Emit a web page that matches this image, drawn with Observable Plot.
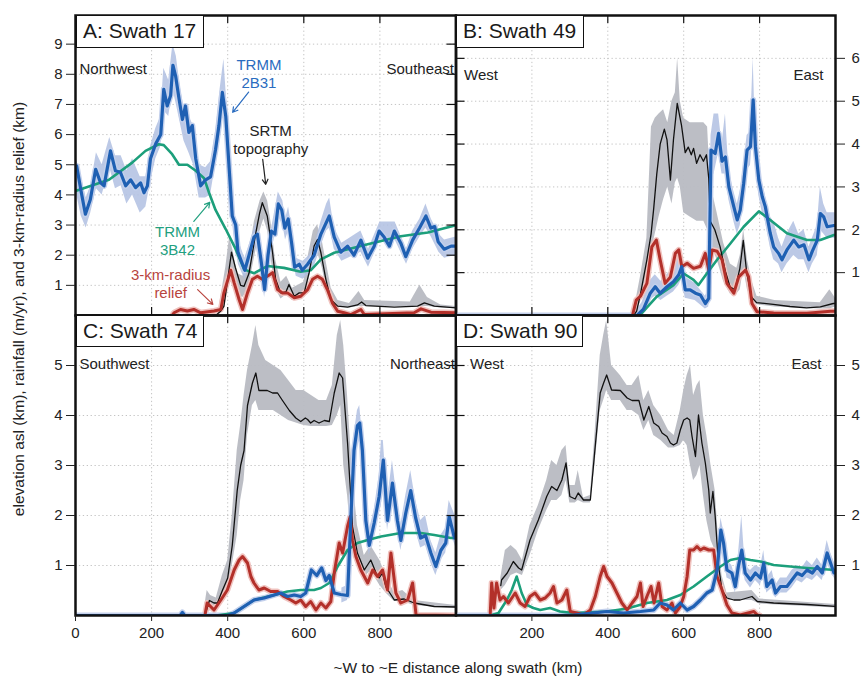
<!DOCTYPE html>
<html><head><meta charset="utf-8">
<script src="https://cdn.jsdelivr.net/npm/d3@7"></script>
<script src="https://cdn.jsdelivr.net/npm/@observablehq/plot@0.6"></script>
<style>
body{margin:0;background:#fff;}
#wrap{position:relative;width:864px;height:677px;font-family:"Liberation Sans",Arial,Helvetica,sans-serif;color:#222;}
#wrap svg{position:absolute;left:0;top:0;}
.ttl{position:absolute;box-sizing:border-box;border:1.5px solid #111;background:#fff;font-size:21px;line-height:30px;padding-left:6px;white-space:nowrap;color:#1a1a1a;}
.lab{position:absolute;white-space:nowrap;font-size:15.5px;color:#222;}
</style></head><body><div id="wrap"></div>
<script>
// ---------- shared ticks ----------
const xGrid = [200, 400, 600, 800];
const xLabelsC = [0, 200, 400, 600, 800];
const xLabelsD = [200, 400, 600, 800];
const yTicksA = [1,2,3,4,5,6,7,8,9];
const yTicksB = [1,2,3,4,5,6];
const yTicksCD = [1,2,3,4,5];

// ---------- Panel A: Swath 17 ----------
const blueA = [[0,4.9],[3,4.96],[15,4.1],[26,3.36],[39,3.85],[53,4.85],[66,4.4],[75,4.3],[92,5.46],[105,4.8],[118,4.75],[132,4.3],[145,4.5],[158,4.24],[171,4.4],[180,4.07],[189,4.3],[197,5.2],[211,5.7],[224,6.0],[232,7.5],[241,6.95],[250,7.3],[256,8.3],[263,7.95],[272,7.2],[281,6.5],[289,6.95],[298,6.07],[307,6.3],[316,5.2],[329,4.3],[342,4.5],[355,4.6],[368,5.5],[377,6.3],[386,7.4],[395,6.6],[404,4.85],[412,3.3],[421,3.0],[427,2.1],[436,1.8],[445,1.5],[456,2.0],[469,2.6],[478,2.7],[489,1.7],[497,0.86],[506,2.0],[515,2.8],[524,2.7],[533,3.7],[542,3.5],[550,2.9],[559,3.2],[568,2.4],[576,1.6],[588,1.7],[596,1.5],[610,1.7],[627,2.0],[645,2.7],[667,3.3],[680,2.6],[697,2.1],[715,2.3],[732,2.0],[750,2.5],[768,1.9],[785,2.3],[798,2.8],[811,2.6],[825,2.3],[838,2.8],[855,2.4],[868,1.95],[886,2.5],[904,2.9],[921,3.3],[934,2.9],[944,2.95],[953,2.45],[969,2.2],[987,2.3],[1000,2.3]];
const greenA = [[0,4.13],[88,4.5],[149,5.07],[184,5.46],[219,5.68],[232,5.65],[254,5.35],[272,5.0],[294,5.0],[316,4.8],[338,4.55],[351,4.07],[368,3.5],[395,2.86],[421,2.2],[443,1.53],[469,1.4],[504,1.64],[548,1.58],[592,1.45],[618,1.5],[645,1.86],[680,2.08],[768,2.36],[855,2.63],[926,2.75],[987,2.95],[1000,3.0]];
const topoA = [[0,0.02],[370,0.02],[382,0.15],[390,0.3],[400,1.2],[410,2.1],[420,1.6],[434,1.0],[443,0.97],[456,1.4],[474,2.75],[484,3.4],[491,3.74],[504,3.3],[518,2.08],[526,1.2],[539,0.75],[553,0.78],[561,1.03],[575,0.64],[588,0.75],[601,0.75],[614,1.42],[627,2.3],[636,2.52],[645,2.08],[658,1.2],[671,0.53],[689,0.31],[715,0.28],[741,0.35],[752,0.45],[763,0.33],[838,0.28],[899,0.31],[917,0.42],[943,0.31],[1000,0.25]];
const reliefA = [[255,0.02],[259,0.09],[276,0.2],[294,0.15],[311,0.2],[329,0.09],[364,0.15],[382,0.2],[390,0.75],[408,1.5],[417,1.08],[430,0.53],[439,0.2],[452,0.75],[465,1.2],[478,1.3],[491,1.2],[504,1.3],[518,1.42],[531,0.86],[544,0.75],[557,0.75],[575,0.59],[592,0.64],[610,0.86],[623,1.2],[636,1.3],[649,1.2],[662,0.86],[675,0.42],[689,0.14],[706,0.09],[724,0.03],[750,0.2],[759,0.03],[890,0.09],[908,0.22],[934,0.11],[1000,0.09]];
const topoBandA = [[378,0,0.3],[395,0.5,1.6],[405,1.3,2.6],[415,1.2,2.1],[425,0.7,1.4],[440,0.6,1.3],[455,0.9,1.9],[470,1.9,3.1],[485,2.8,3.8],[495,3.2,4.1],[505,2.8,3.8],[515,1.8,3.0],[525,0.9,1.9],[540,0.55,1.1],[555,0.7,1.3],[570,0.5,0.9],[585,0.5,1.0],[600,0.6,1.1],[612,1.1,2.0],[625,1.8,2.8],[636,2.1,3.0],[648,1.6,2.5],[660,0.9,1.7],[672,0.45,0.9],[690,0.28,0.5],[720,0.25,0.4],[745,0.3,0.8],[760,0.3,0.5],[880,0.28,0.45],[905,0.3,1.0],[925,0.3,0.6],[960,0.25,0.35],[1000,0.22,0.3]];
const blueBandA = [[0,4.2,5.3],[15,3.3,4.6],[28,2.9,3.9],[40,3.4,4.3],[55,4.2,5.4],[70,4.0,5.0],[90,4.9,5.9],[105,4.2,5.3],[120,4.3,5.3],[135,3.7,4.8],[150,4.0,5.2],[170,3.4,4.6],[185,3.6,4.6],[197,4.4,5.6],[211,5.2,6.2],[224,5.6,6.6],[232,6.8,8.2],[245,6.6,7.8],[256,7.5,9.0],[265,7.0,8.6],[275,6.4,7.6],[285,5.8,6.9],[298,5.4,6.6],[310,5.0,6.3],[325,3.9,5.0],[342,3.9,4.9],[355,4.0,5.1],[368,5.0,6.1],[380,6.3,7.5],[390,6.8,8.5],[398,6.0,7.0],[405,4.2,5.4],[415,2.8,3.8],[428,1.7,2.5],[445,1.2,1.9],[458,1.7,2.4],[475,2.3,3.1],[488,1.4,2.1],[497,0.6,1.2],[508,1.7,2.4],[520,2.4,3.2],[533,3.3,4.1],[545,3.0,3.8],[552,2.5,3.2],[560,2.8,3.6],[570,2.0,2.8],[580,1.3,1.9],[598,1.2,1.8],[615,1.4,2.0],[630,1.7,2.4],[645,2.3,3.1],[660,2.8,3.7],[668,2.9,3.9],[680,2.2,2.9],[700,1.8,2.4],[750,2.1,2.8],[770,1.6,2.2],[800,2.5,3.1],[840,2.5,3.1],[870,1.7,2.2],[886,2.2,2.8],[905,2.6,3.2],[921,2.9,3.7],[935,2.6,3.2],[955,2.1,2.7],[970,1.9,2.5],[1000,2.0,2.6]];
const notesA = [
  {x: 482, y: 8.04, text: "TRMM\n2B31"},
  {x: 513, y: 5.85, text: "SRTM\ntopography"},
  {x: 268, y: 2.49, text: "TRMM\n3B42"},
  {x: 250, y: 1.06, text: "3-km-radius\nrelief"}
];
const arrowsA = [
  {x1: 455, y1: 7.41, x2: 413, y2: 6.74},
  {x1: 492, y1: 5.18, x2: 500, y2: 4.35},
  {x1: 311, y1: 3.12, x2: 353, y2: 3.75},
  {x1: 321, y1: 0.86, x2: 361, y2: 0.37}
];

// ---------- Panel B: Swath 49 ----------
const blueB = [[0,0],[477,0],[494,0.15],[512,0.52],[525,0.67],[538,0.52],[556,0.67],[573,0.79],[587,0.95],[595,1.14],[604,0.6],[617,0.6],[631,0.52],[644,0.48],[657,0.28],[666,0.4],[672,3.86],[683,3.78],[692,4.25],[701,3.6],[710,3.7],[719,3.0],[732,2.54],[741,2.23],[749,2.46],[758,3.08],[767,3.86],[776,3.94],[783,5.03],[789,3.94],[798,3.16],[807,2.77],[815,2.54],[828,1.92],[837,1.6],[850,1.45],[859,1.3],[872,1.53],[890,1.76],[903,1.6],[917,1.65],[930,1.3],[939,1.5],[952,1.76],[960,2.38],[969,2.3],[978,2.07],[996,2.1],[1000,2.1]];
const greenB = [[0,0],[480,0],[486,0.02],[529,0.44],[573,0.71],[600,0.98],[626,0.83],[639,0.71],[661,0.98],[688,1.3],[723,1.68],[758,2.07],[798,2.43],[828,2.23],[872,1.92],[925,1.76],[960,1.76],[996,1.88],[1000,1.88]];
const topoB = [[0,0],[468,0],[476,0.1],[486,0.5],[503,1.3],[514,1.9],[521,2.5],[529,3.3],[538,4.0],[549,4.35],[556,4.1],[565,3.16],[573,4.1],[583,4.95],[594,4.45],[604,3.8],[612,3.93],[620,3.75],[626,3.9],[634,3.55],[643,3.75],[652,3.6],[660,3.75],[666,3.2],[670,2.2],[682,2.0],[696,1.6],[709,1.06],[722,0.67],[735,0.6],[748,1.1],[757,1.75],[766,1.0],[779,0.43],[792,0.3],[836,0.26],[880,0.21],[924,0.18],[960,0.2],[994,0.28],[1000,0.28]];
const reliefB = [[465,0],[475,0.36],[486,0.45],[503,0.75],[516,1.6],[528,1.76],[538,1.3],[551,0.75],[565,0.9],[578,1.45],[587,1.53],[595,1.14],[609,1.22],[626,1.1],[644,1.15],[657,1.45],[666,1.06],[675,1.53],[688,1.5],[701,1.3],[714,0.75],[732,0.52],[745,0.9],[763,1.06],[771,0.9],[780,0.28],[793,0.09],[837,0.06],[925,0.05],[987,0.1],[1000,0.1]];
const topoBandB = [[470,0,0.15],[486,0.3,0.9],[503,1.0,1.8],[515,1.5,4.4],[525,1.9,4.6],[535,2.3,4.7],[547,2.7,4.8],[558,3.0,4.5],[569,2.6,5.0],[578,3.1,5.2],[584,3.2,6.0],[591,3.0,5.0],[600,2.4,4.6],[617,2.3,4.5],[635,2.2,4.5],[653,2.2,4.5],[663,2.0,4.4],[668,1.8,3.5],[675,1.6,2.9],[688,1.3,2.4],[705,0.8,1.7],[723,0.5,1.2],[740,0.5,1.1],[749,0.6,1.4],[758,1.1,2.0],[768,0.6,1.3],[780,0.35,0.8],[793,0.25,0.45],[840,0.2,0.35],[960,0.15,0.3],[985,0.15,0.6],[1000,0.2,0.4]];
const blueBandB = [[470,0,0.05],[490,0.05,0.3],[510,0.35,0.8],[525,0.45,0.95],[540,0.35,0.8],[556,0.45,0.95],[573,0.55,1.1],[587,0.7,1.4],[595,0.85,1.5],[604,0.4,0.9],[630,0.35,0.75],[657,0.15,0.45],[666,0.2,0.6],[672,3.2,4.2],[680,3.3,4.7],[692,3.8,4.7],[701,3.3,4.0],[710,3.3,4.7],[719,2.7,3.4],[732,2.2,2.9],[741,1.9,2.6],[749,2.1,2.9],[758,2.7,3.5],[767,3.4,4.2],[776,3.5,4.3],[783,4.3,6.0],[789,3.5,4.3],[798,2.8,3.5],[807,2.4,3.1],[815,2.2,2.8],[828,1.6,2.3],[837,1.3,2.2],[850,1.2,1.8],[859,1.0,1.6],[872,1.2,1.9],[890,1.4,2.2],[903,1.3,1.9],[917,1.3,2.0],[930,1.0,1.6],[939,1.2,1.8],[952,1.4,2.1],[960,2.0,3.0],[969,1.9,2.6],[978,1.8,2.4],[1000,1.8,2.4]];

// ---------- Panel C: Swath 74 ----------
const blueC = [[0,0],[275,0],[281,0.06],[287,0],[400,0],[417,0.05],[443,0.18],[469,0.31],[496,0.35],[522,0.41],[539,0.45],[557,0.38],[575,0.41],[592,0.38],[605,0.45],[620,0.91],[634,0.8],[647,0.95],[658,0.7],[667,0.8],[680,0.45],[697,0.42],[715,0.4],[724,2.0],[732,3.3],[741,3.8],[747,3.85],[754,3.3],[763,1.9],[772,1.4],[785,1.85],[798,2.38],[809,3.11],[820,1.9],[833,2.65],[846,1.9],[855,1.5],[868,2.05],[881,2.5],[894,1.95],[907,1.55],[920,1.6],[934,1.25],[947,0.98],[960,1.3],[973,1.45],[982,1.98],[996,1.55],[1000,1.55]];
const greenC = [[0,0],[370,0],[417,0.05],[469,0.31],[522,0.41],[557,0.48],[592,0.51],[627,0.51],[645,0.55],[667,0.65],[689,0.98],[715,1.31],[741,1.45],[768,1.51],[803,1.58],[855,1.65],[908,1.65],[943,1.61],[987,1.55],[1000,1.55]];
const topoC = [[0,0],[340,0],[346,0.15],[352,0.3],[364,0.25],[373,0.25],[386,0.5],[400,0.75],[412,1.4],[425,2.5],[434,3.0],[443,3.3],[452,4.2],[465,4.65],[474,4.85],[482,4.5],[504,4.5],[518,4.45],[531,4.45],[544,4.3],[562,4.1],[579,3.95],[592,3.88],[604,3.95],[610,3.92],[618,3.85],[627,3.9],[640,3.85],[654,3.9],[667,3.88],[680,4.45],[693,4.85],[702,4.75],[715,3.45],[728,1.78],[741,1.25],[759,0.91],[776,1.11],[790,0.85],[798,0.75],[807,0.85],[816,0.57],[838,0.31],[864,0.33],[890,0.25],[943,0.18],[1000,0.17]];
const reliefC = [[340,0],[346,0.25],[364,0.11],[382,0.31],[399,0.51],[417,0.91],[430,1.11],[439,1.18],[452,1.05],[461,0.78],[469,0.65],[482,0.51],[496,0.55],[513,0.48],[531,0.48],[548,0.38],[566,0.31],[579,0.25],[592,0.31],[605,0.18],[618,0.28],[632,0.11],[645,0.25],[658,0.15],[671,0.28],[680,0.85],[693,1.45],[702,1.25],[715,1.78],[722,1.98],[728,1.5],[737,1.18],[750,0.91],[768,0.65],[781,0.91],[794,0.78],[807,0.91],[820,0.51],[829,1.25],[842,0.45],[855,0.25],[873,0.31],[886,0.65],[895,0.01],[1000,0]];
const topoBandC = [[340,0,0.2],[346,0.05,0.5],[355,0.1,0.4],[370,0.15,0.35],[386,0.35,0.8],[400,0.55,1.1],[412,1.0,2.0],[425,1.6,3.3],[434,2.3,3.8],[443,2.7,4.4],[452,3.6,4.9],[465,4.2,5.4],[474,4.3,5.8],[482,4.1,5.4],[500,4.1,5.1],[520,4.1,5.0],[540,4.0,4.9],[560,3.9,4.7],[580,3.85,4.5],[600,3.8,4.5],[620,3.78,4.4],[640,3.78,4.3],[660,3.78,4.3],[675,3.8,4.6],[688,4.0,5.6],[697,4.2,5.9],[705,3.0,5.4],[715,2.4,4.4],[728,1.3,2.8],[741,1.0,1.8],[759,0.75,1.2],[776,0.9,1.4],[800,0.6,1.1],[816,0.45,0.8],[838,0.28,0.45],[860,0.28,0.5],[890,0.2,0.3],[1000,0.14,0.2]];
const blueBandC = [[700,0.25,0.55],[715,0.3,0.6],[724,1.6,2.4],[732,3.0,3.6],[741,3.5,4.1],[747,3.6,4.2],[754,3.0,3.6],[763,1.7,2.3],[772,1.2,1.7],[785,1.6,2.1],[798,2.1,2.8],[804,2.2,3.5],[809,2.8,3.5],[820,1.7,2.3],[833,2.4,3.1],[846,1.7,2.3],[855,1.3,1.8],[868,1.8,2.4],[881,2.2,2.9],[894,1.7,2.3],[907,1.35,1.9],[920,1.4,2.0],[934,1.05,1.5],[947,0.8,1.25],[960,1.1,1.6],[973,1.25,1.75],[982,1.75,2.3],[1000,1.35,1.95]];

// ---------- Panel D: Swath 90 ----------
const blueD = [[0,0],[274,0],[310,0.01],[398,0.08],[442,0.05],[486,0.08],[521,0.11],[538,0.25],[556,0.21],[573,0.11],[591,0.25],[609,0.11],[626,0.18],[644,0.31],[661,0.45],[675,0.51],[688,0.91],[698,1.71],[705,1.45],[714,0.91],[727,0.85],[736,0.58],[744,0.98],[753,1.31],[762,0.85],[776,0.71],[789,0.85],[802,0.75],[811,1.05],[819,0.58],[833,0.71],[842,0.45],[855,0.58],[872,0.58],[885,0.71],[899,0.85],[912,0.8],[925,0.91],[939,0.85],[952,0.98],[965,0.85],[978,1.25],[987,1.05],[996,0.85],[1000,0.85]];
const greenD = [[0,0],[90,0],[112,0.05],[134,0.31],[147,0.51],[160,0.78],[173,0.45],[187,0.21],[204,0.15],[222,0.11],[248,0.15],[274,0.08],[310,0.05],[398,0.08],[451,0.14],[503,0.25],[556,0.31],[591,0.41],[626,0.58],[661,0.78],[697,0.98],[723,1.11],[749,1.15],[776,1.11],[802,1.08],[837,1.01],[881,0.98],[925,0.95],[1000,0.91]];
const topoD = [[118,0.6],[120,0.71],[135,0.85],[151,1.08],[165,0.95],[173,0.91],[195,1.51],[217,1.91],[239,2.38],[252,2.58],[266,2.5],[279,2.71],[290,3.05],[300,2.38],[314,2.33],[322,2.45],[336,2.31],[354,2.31],[366,3.31],[380,4.45],[389,4.65],[397,4.81],[410,4.51],[433,4.5],[451,4.35],[464,4.3],[482,4.3],[495,3.91],[508,4.18],[521,3.85],[534,3.78],[543,3.65],[556,3.58],[565,3.45],[573,3.41],[582,3.45],[591,3.71],[600,3.91],[609,3.95],[616,3.91],[622,3.58],[631,3.18],[639,4.01],[648,3.45],[657,3.05],[666,2.51],[670,2.05],[677,2.48],[683,1.98],[692,0.98],[701,0.51],[714,0.35],[732,0.31],[749,0.31],[780,0.38],[794,0.28],[837,0.25],[925,0.22],[1000,0.18]];
const reliefD = [[90,0],[94,0.65],[100,0.15],[107,0.65],[116,0.31],[125,0.38],[138,0.25],[156,0.45],[169,0.25],[182,0.18],[195,0.38],[208,0.45],[222,0.31],[235,0.35],[248,0.45],[257,0.58],[266,0.25],[279,0.31],[292,0.51],[301,0.08],[318,0.05],[336,0.01],[354,0.11],[367,0.38],[380,0.78],[389,0.98],[398,0.78],[411,0.65],[424,0.45],[437,0.25],[451,0.11],[464,0.25],[477,0.38],[486,0.65],[493,0.18],[503,0.38],[514,0.58],[522,0.25],[534,0.65],[543,0.18],[556,0.11],[569,0.25],[578,0.05],[591,0.18],[600,0.38],[609,0.78],[616,1.31],[626,1.31],[635,1.38],[644,1.31],[653,1.35],[666,1.31],[679,1.31],[688,0.78],[701,0.51],[714,0.21],[727,0.05],[749,0.01],[785,0.08],[794,0.01],[800,0]];
const topoBandD = [[118,0.5,0.75],[130,0.6,1.3],[145,0.8,1.4],[160,0.85,1.3],[175,0.8,1.1],[195,1.2,1.8],[217,1.7,2.2],[239,2.1,2.7],[252,2.3,3.1],[266,2.3,3.0],[279,2.4,3.3],[290,2.7,3.4],[300,2.25,2.6],[314,2.25,2.6],[322,2.3,2.9],[336,2.25,2.35],[354,2.25,2.4],[366,3.0,3.6],[380,4.1,5.2],[389,4.3,5.6],[397,4.5,5.9],[410,4.3,5.0],[433,4.3,4.8],[451,4.1,4.6],[464,4.1,4.6],[482,4.0,4.8],[495,3.7,4.3],[508,3.9,4.5],[521,3.6,4.2],[540,3.5,4.0],[560,3.35,3.7],[575,3.35,3.6],[591,3.4,4.1],[600,3.5,4.5],[609,3.4,4.8],[618,3.0,5.0],[626,2.7,4.4],[635,2.8,4.6],[643,3.0,4.7],[652,2.4,4.0],[661,1.9,3.6],[672,1.5,3.0],[683,1.3,2.5],[692,0.7,1.5],[701,0.4,0.8],[714,0.3,0.45],[780,0.3,0.5],[800,0.23,0.33],[1000,0.15,0.22]];
const blueBandD = [[680,0.5,0.8],[688,0.75,1.1],[698,1.5,1.95],[705,1.25,1.7],[714,0.75,1.1],[727,0.7,1.0],[736,0.45,0.75],[744,0.8,1.2],[753,1.1,2.0],[762,0.7,1.0],[776,0.55,0.9],[789,0.7,1.0],[802,0.6,0.95],[811,0.85,1.3],[819,0.45,0.75],[833,0.55,0.9],[842,0.35,0.6],[855,0.45,0.75],[872,0.45,0.75],[885,0.55,0.9],[899,0.7,1.0],[912,0.65,0.95],[925,0.75,1.1],[939,0.7,1.0],[952,0.8,1.15],[965,0.7,1.0],[978,1.05,1.5],[987,0.9,1.25],[1000,0.7,1.0]];

// ---------- styles ----------
const C = {
  blue: "#1f60b3", blueHalo: "#c3d0ec", blueBand: "#b0c0e2",
  red: "#b3302a", redHalo: "#f0c3bf",
  green: "#1c9f7b", topo: "#111", topoBand: "#b8bbc2",
  grid: "#c4c4c4", ink: "#222"
};
const FONT = '"Liberation Sans", Arial, Helvetica, sans-serif';
const W = 864, H = 677;
const X = d => d[0], Y = d => d[1];
const intFmt = d => String(d);

function panel(p) {
  const pw = p.right - p.left, ph = p.bottom - p.top;
  const marks = [
    Plot.gridX(xGrid, {stroke: C.grid, strokeOpacity: 1, strokeDasharray: "1.3,2.6"}),
    Plot.gridY(p.yTicks, {stroke: C.grid, strokeOpacity: 1, strokeDasharray: "1.3,2.6"}),
    Plot.areaY(p.topoBand, {x: X, y1: d => d[1], y2: d => d[2], fill: C.topoBand, fillOpacity: 0.95, clip: true}),
    Plot.areaY(p.blueBand, {x: X, y1: d => d[1], y2: d => d[2], fill: C.blueBand, fillOpacity: 0.85, clip: true}),
    Plot.line(p.relief, {x: X, y: Y, stroke: C.redHalo, strokeWidth: 6, clip: true}),
    Plot.line(p.blue, {x: X, y: Y, stroke: C.blueHalo, strokeWidth: 6, clip: true}),
    Plot.line(p.green, {x: X, y: Y, stroke: C.green, strokeWidth: 2.6, clip: true}),
    Plot.line(p.topo, {x: X, y: Y, stroke: C.topo, strokeWidth: 1.3, clip: true}),
    Plot.line(p.relief, {x: X, y: Y, stroke: C.red, strokeWidth: 3, clip: true}),
    Plot.line(p.blue, {x: X, y: Y, stroke: C.blue, strokeWidth: 3.2, clip: true}),
    Plot.frame({stroke: "#111", strokeWidth: 2.5}),
    // labelled y axis
    Plot.axisY(p.yTicks, {anchor: p.ySide, tickSize: 9, tickPadding: p.ySide === "left" ? 4 : 7, fontSize: 15, label: null, color: C.ink, tickFormat: intFmt}),
    // inward ticks on the other y side
    Plot.tickY(p.yTicks, {y: d => d, stroke: "#111", strokeWidth: 1.2,
      insetLeft: p.ySide === "left" ? pw - 9 : 0, insetRight: p.ySide === "left" ? 0 : pw - 9}),
    // inward ticks top
    Plot.tickX(xGrid, {x: d => d, stroke: "#111", strokeWidth: 1.2, insetBottom: ph - 8}),
    // direction labels
    Plot.text([p.dirL], {text: d => d, frameAnchor: "top-left", dx: p.dxL, dy: p.dyDir, fontSize: 15, fill: C.ink, textAnchor: "start"}),
    Plot.text([p.dirR], {text: d => d, frameAnchor: "top-right", dx: p.dxR, dy: p.dyDir, fontSize: 15, fill: C.ink, textAnchor: "end"})
  ];
  if (p.xLabels) {
    marks.push(Plot.axisX(p.xLabels, {anchor: "bottom", tickSize: 6, tickPadding: 6, fontSize: 15, label: null, color: C.ink, tickFormat: intFmt}));
  } else {
    marks.push(Plot.tickX(xGrid, {x: d => d, stroke: "#111", strokeWidth: 1.2, insetTop: ph - 8}));
  }
  if (p.extra) marks.push(...p.extra);
  return Plot.plot({
    width: W, height: H,
    marginLeft: p.left, marginRight: W - p.right, marginTop: p.top, marginBottom: H - p.bottom,
    x: {domain: [0, 1000], axis: null},
    y: {domain: [0, p.yMax], axis: null},
    style: {background: "transparent", overflow: "visible", fontFamily: FONT},
    marks
  });
}

const noteColors = ["#2a6cc0", "#222", "#22a07f", "#b8443e"];
const extraA = [
  Plot.text(notesA, {x: "x", y: "y", text: "text", fill: d => noteColors[notesA.indexOf(d)], fontSize: 15, lineHeight: 1.2}),
  Plot.arrow(arrowsA, {x1: "x1", y1: "y1", x2: "x2", y2: "y2", stroke: d => noteColors[arrowsA.indexOf(d)], strokeWidth: 1.2, headLength: 7})
];

const wrap = document.getElementById("wrap");
const panels = [
  {left: 75, right: 455.5, top: 15, bottom: 315, yMax: 9.95, yTicks: yTicksA, ySide: "left",
   blue: blueA, green: greenA, topo: topoA, relief: reliefA, topoBand: topoBandA, blueBand: blueBandA,
   dirL: "Northwest", dirR: "Southeast", dxL: 4, dxR: -2, dyDir: 48, extra: extraA},
  {left: 455.5, right: 835, top: 15, bottom: 315, yMax: 7.0, yTicks: yTicksB, ySide: "right",
   blue: blueB, green: greenB, topo: topoB, relief: reliefB, topoBand: topoBandB, blueBand: blueBandB,
   dirL: "West", dirR: "East", dxL: 8, dxR: -12, dyDir: 54},
  {left: 75, right: 455.5, top: 315, bottom: 615, yMax: 6.0, yTicks: yTicksCD, ySide: "left",
   blue: blueC, green: greenC, topo: topoC, relief: reliefC, topoBand: topoBandC, blueBand: blueBandC,
   dirL: "Southwest", dirR: "Northeast", dxL: 4, dxR: -1, dyDir: 43, xLabels: xLabelsC},
  {left: 455.5, right: 835, top: 315, bottom: 615, yMax: 6.0, yTicks: yTicksCD, ySide: "right",
   blue: blueD, green: greenD, topo: topoD, relief: reliefD, topoBand: topoBandD, blueBand: blueBandD,
   dirL: "West", dirR: "East", dxL: 14, dxR: -14, dyDir: 43, xLabels: xLabelsD}
];
for (const p of panels) wrap.appendChild(panel(p));

// panel title boxes
const titles = [
  {t: "A: Swath 17", l: 76, tp: 15, w: 128, h: 33},
  {t: "B: Swath 49", l: 456, tp: 15, w: 128, h: 33},
  {t: "C: Swath 74", l: 76, tp: 315, w: 128, h: 32},
  {t: "D: Swath 90", l: 456, tp: 315, w: 127, h: 32}
];
for (const b of titles) {
  const d = document.createElement("div");
  d.className = "ttl";
  d.style.left = b.l + "px"; d.style.top = b.tp + "px";
  d.style.width = b.w + "px"; d.style.height = b.h + "px";
  d.textContent = b.t;
  wrap.appendChild(d);
}
// axis titles
const yl = document.createElement("div");
yl.className = "lab";
yl.textContent = "elevation asl (km), rainfall (m/yr), and 3-km-radius relief (km)";
yl.style.left = "19px"; yl.style.top = "309px";
yl.style.transform = "translate(-50%,-50%) rotate(-90deg)";
wrap.appendChild(yl);
const xl = document.createElement("div");
xl.className = "lab";
xl.textContent = "~W to ~E distance along swath (km)";
xl.style.left = "458px"; xl.style.top = "668px";
xl.style.transform = "translate(-50%,-50%)";
wrap.appendChild(xl);
</script>
</body></html>
